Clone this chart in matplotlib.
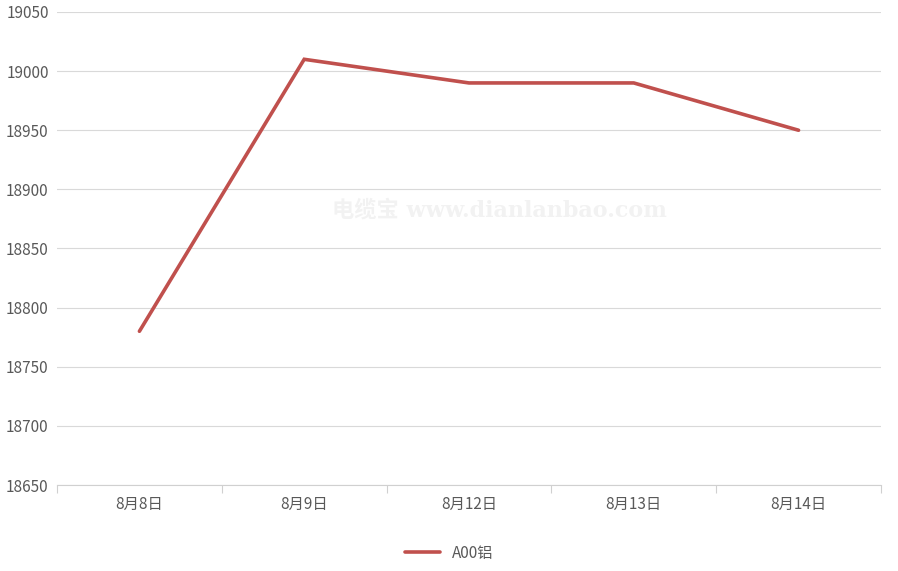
import matplotlib
matplotlib.use('Agg')
import matplotlib.pyplot as plt
import numpy as np

plt.rcParams['font.family'] = ['Noto Sans CJK SC', 'DejaVu Sans']

dates = ['8月8日', '8月9日', '8月12日', '8月13日', '8月14日']
prices = [18780, 19010, 18990, 18990, 18950]
yticks = np.arange(18650, 19051, 50)

fig = plt.figure(figsize=(8.98, 5.71), dpi=100)
ax = fig.add_axes([0.0635, 0.1506, 0.9175, 0.8284])

x = np.arange(len(dates))
ax.plot(x, prices, color='#C0504D', linewidth=2.6, label='A00铝',
        solid_capstyle='round', solid_joinstyle='miter', zorder=3)

ax.set_xlim(-0.5, len(dates) - 0.5)
ax.set_ylim(18650, 19050)
ax.set_yticks(yticks)
ax.set_yticklabels([str(v) for v in yticks])
ax.set_xticks(x)
ax.set_xticklabels(dates)
ax.set_xticks(np.arange(-0.5, len(dates), 1), minor=True)

ax.grid(axis='y', color='#D9D9D9', linewidth=0.8)
ax.set_axisbelow(True)
for s in ['top', 'right', 'left']:
    ax.spines[s].set_visible(False)
ax.spines['bottom'].set_color('#D0D0D0')
ax.spines['bottom'].set_linewidth(0.8)

ax.tick_params(axis='y', length=0, labelsize=11, labelcolor='#595959', pad=6)
ax.tick_params(axis='x', which='major', length=0, labelsize=11, labelcolor='#595959', pad=8)
ax.tick_params(axis='x', which='minor', length=6, color='#D0D0D0', width=0.8)

ax.text(0.537, 0.58, '电缆宝 www.dianlanbao.com', transform=ax.transAxes,
        ha='center', va='center', fontsize=16, fontweight='bold',
        color='#F2F2F2', zorder=1, family=['DejaVu Serif', 'Noto Sans CJK SC'])

fig.legend(loc='lower center', bbox_to_anchor=(0.5, -0.008), frameon=False,
           fontsize=11, labelcolor='#595959', handlelength=2.3)

fig.savefig('out.png', dpi=100)
